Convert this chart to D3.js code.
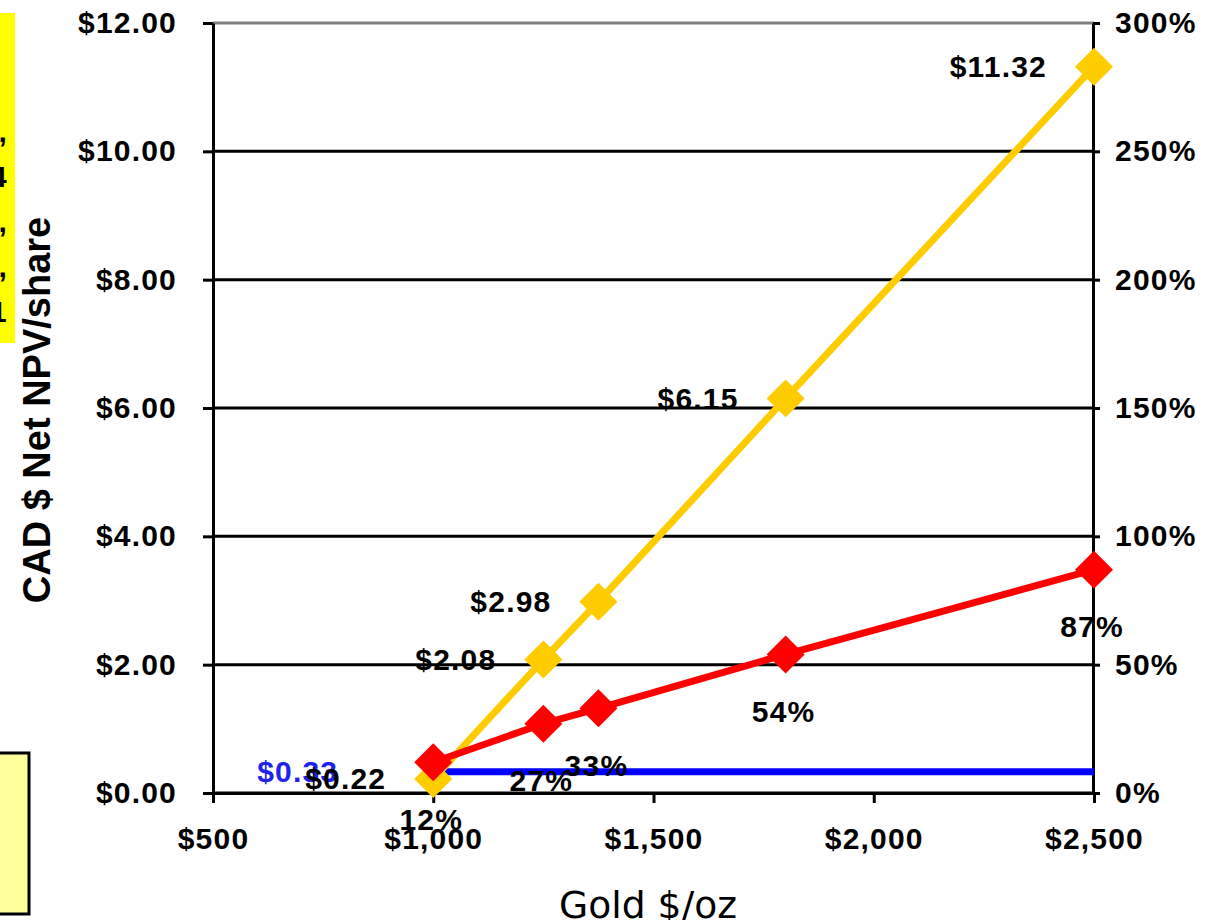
<!DOCTYPE html>
<html>
<head>
<meta charset="utf-8">
<script src="https://cdn.jsdelivr.net/npm/d3@7/dist/d3.min.js"></script>
<style>
  html, body { margin: 0; padding: 0; background: #fff; }
  svg { display: block; }
  .lbl { font-family: "Liberation Sans", Arial, sans-serif; font-weight: bold; font-size: 30px; letter-spacing: 1.2px; fill: #000; }
</style>
</head>
<body>
<svg id="chart" width="1210" height="920"></svg>
<script>
// Gold price scenarios (US$/oz)
const goldPrices = [1000, 1250, 1375, 1800, 2500];
// Net NPV per share (CAD $)
const npvPerShare = [0.22, 2.08, 2.98, 6.15, 11.32];
// After-tax IRR (%)
const irrPercent = [12, 27, 33, 54, 87];
// Current share price reference line (CAD $)
const sharePriceX = [1000, 2500];
const sharePrice = [0.33, 0.33];

// Axis ticks
const xTicks = [500, 1000, 1500, 2000, 2500];
const yLeftTicks = [0, 2, 4, 6, 8, 10, 12];
const yRightTicks = [0, 50, 100, 150, 200, 250, 300];

// Side-panel text fragments
const sideNotes = ["5,", "4", "5,", "5,", "1"];

const svg = d3.select("#chart");
svg.append("rect").attr("width", 1210).attr("height", 920).attr("fill", "#fff");

const plot = { left: 213, right: 1094, top: 23, bottom: 793 };

const x = d3.scaleLinear().domain([500, 2500]).range([plot.left, plot.right]);
const yL = d3.scaleLinear().domain([0, 12]).range([plot.bottom, plot.top]);
const yR = d3.scaleLinear().domain([0, 300]).range([plot.bottom, plot.top]);

// Side panels at the left edge
svg.append("defs").append("clipPath").attr("id", "noteClip")
  .append("rect").attr("x", 0).attr("y", 13).attr("width", 15).attr("height", 330);
svg.append("rect").attr("x", 0).attr("y", 13).attr("width", 15).attr("height", 330).attr("fill", "#ffff00");
svg.append("g").attr("clip-path", "url(#noteClip)")
  .selectAll("text").data(sideNotes).join("text")
  .attr("class", "lbl")
  .attr("x", 8).attr("y", (d, i) => 131 + i * 45).attr("dy", "0.35em")
  .attr("text-anchor", "end")
  .text(d => d);
svg.append("rect").attr("x", -3).attr("y", 753).attr("width", 32).attr("height", 161)
  .attr("fill", "#ffff99").attr("stroke", "#000").attr("stroke-width", 3);

// Horizontal gridlines
svg.append("g").selectAll("line").data(yLeftTicks).join("line")
  .attr("x1", plot.left).attr("x2", plot.right)
  .attr("y1", d => yL(d)).attr("y2", d => yL(d))
  .attr("stroke", d => d === 12 ? "#808080" : "#000")
  .attr("stroke-width", 3);

// Axes
function styleAxis(g) {
  g.selectAll(".domain").attr("stroke", "#000").attr("stroke-width", 3);
  g.selectAll(".tick line").attr("stroke", "#000").attr("stroke-width", 3);
  g.selectAll(".tick text").attr("class", "lbl").attr("fill", "#000");
}

svg.append("g").attr("transform", `translate(${plot.left},0)`)
  .call(d3.axisLeft(yL).tickValues(yLeftTicks).tickSize(10).tickSizeOuter(0).tickPadding(26)
    .tickFormat(d => "$" + d3.format(".2f")(d)))
  .call(styleAxis);

svg.append("g").attr("transform", `translate(${plot.right - 1},0)`)
  .call(d3.axisRight(yR).tickValues(yRightTicks).tickSize(7).tickSizeOuter(0).tickPadding(15)
    .tickFormat(d => d + "%"))
  .call(styleAxis);

svg.append("g").attr("transform", `translate(0,${plot.bottom})`)
  .call(d3.axisBottom(x).tickValues(xTicks).tickSize(10).tickSizeOuter(0).tickPadding(25)
    .tickFormat(d => "$" + d3.format(",")(d)))
  .call(styleAxis);

// Axis titles
svg.append("text")
  .attr("transform", "translate(50,410) rotate(-90)")
  .attr("text-anchor", "middle")
  .attr("font-family", "Liberation Sans, Arial, sans-serif")
  .attr("font-weight", "bold").attr("font-size", 38)
  .text("CAD $ Net NPV/share");

svg.append("text")
  .attr("x", 648).attr("y", 918)
  .attr("text-anchor", "middle")
  .attr("font-family", "DejaVu Sans, Verdana, sans-serif")
  .attr("font-size", 38)
  .attr("textLength", 178).attr("lengthAdjust", "spacingAndGlyphs")
  .text("Gold $/oz");

// Series
const diamond = d3.symbol().type(d3.symbolSquare).size(19 * Math.SQRT2 * 19 * Math.SQRT2);

// Share price line
svg.append("path")
  .datum(d3.zip(sharePriceX, sharePrice))
  .attr("fill", "none").attr("stroke", "#0000ff").attr("stroke-width", 7)
  .attr("d", d3.line().x(d => x(d[0])).y(d => yL(d[1])));

// NPV per share
const npvData = d3.zip(goldPrices, npvPerShare);
svg.append("path").datum(npvData)
  .attr("fill", "none").attr("stroke", "#ffcc00").attr("stroke-width", 7)
  .attr("stroke-linejoin", "round")
  .attr("d", d3.line().x(d => x(d[0])).y(d => yL(d[1])));
svg.append("g").selectAll("path").data(npvData).join("path")
  .attr("d", diamond)
  .attr("transform", d => `translate(${x(d[0])},${yL(d[1])}) rotate(45)`)
  .attr("fill", "#ffcc00");

// IRR
const irrData = d3.zip(goldPrices, irrPercent);
svg.append("path").datum(irrData)
  .attr("fill", "none").attr("stroke", "#ff0000").attr("stroke-width", 7)
  .attr("stroke-linejoin", "round")
  .attr("d", d3.line().x(d => x(d[0])).y(d => yR(d[1])));
svg.append("g").selectAll("path").data(irrData).join("path")
  .attr("d", diamond)
  .attr("transform", d => `translate(${x(d[0])},${yR(d[1])}) rotate(45)`)
  .attr("fill", "#ff0000");

// Data labels
svg.append("text").attr("class", "lbl")
  .attr("x", x(sharePriceX[0]) - 95).attr("y", yL(sharePrice[0])).attr("dy", "0.35em")
  .attr("text-anchor", "end").style("fill", "#2222ee")
  .text("$" + d3.format(".2f")(sharePrice[0]));

svg.append("g").selectAll("text").data(npvData).join("text")
  .attr("class", "lbl")
  .attr("x", d => x(d[0]) - 47).attr("y", d => yL(d[1])).attr("dy", "0.35em")
  .attr("text-anchor", "end")
  .text(d => "$" + d3.format(".2f")(d[1]));

svg.append("g").selectAll("text").data(irrData).join("text")
  .attr("class", "lbl")
  .attr("x", d => x(d[0]) - 2).attr("y", d => yR(d[1]) + 57).attr("dy", "0.35em")
  .attr("text-anchor", "middle")
  .text(d => d[1] + "%");
</script>
</body>
</html>
